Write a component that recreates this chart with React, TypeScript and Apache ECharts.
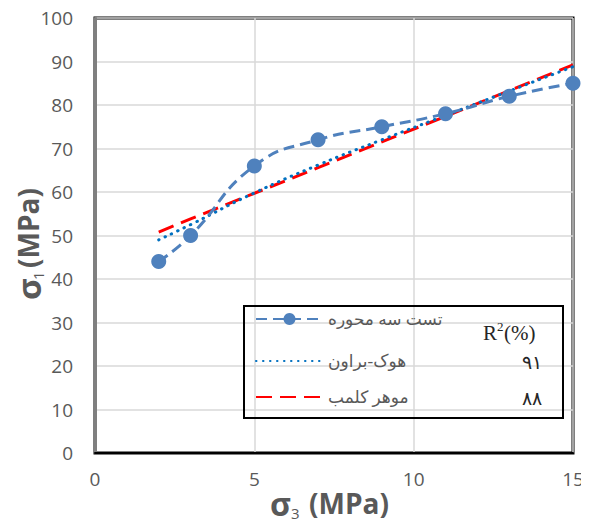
import React, { useEffect, useRef } from "react";
import * as echarts from "echarts";

const sigma3 = [2, 3, 5, 7, 9, 11, 13, 15];
const triaxialTest = [44, 50, 66, 72, 75, 78, 82, 85];
const hoekBrown = [49, 52.5, 59.8, 66.2, 72, 77.6, 83.2, 88.8];
const mohrCoulomb = [50.8, 53.8, 59.7, 65.6, 71.5, 77.4, 83.3, 89.2];
const seriesNames = ["تست سه محوره", "هوک-براون", "موهر کلمب"];
const r2Values = ["", "۹۱", "۸۸"];
const xTicks = { min: 0, max: 15, interval: 5 };
const yTicks = { min: 0, max: 100, interval: 10 };

const pairs = (ys: number[]) => sigma3.map((x, i) => [x, ys[i]]);

export default function App() {
  const ref = useRef<HTMLDivElement>(null);
  useEffect(() => {
    if (!ref.current) return;
    const chart = echarts.init(ref.current, null, { renderer: "svg" });
    const gray = "#595959";
    const tickFont = "'Open Sans', sans-serif";
    const serif = "'Liberation Serif', 'DejaVu Serif', serif";
    const persian = "'Liberation Serif', 'DejaVu Sans', sans-serif";
    const legendRows = [309, 351, 387];
    const legendItemStyles = [{ color: "#4F81BD", opacity: 1 }, { opacity: 0 }, { opacity: 0 }];
    chart.setOption({
      animation: false,
      backgroundColor: "#fff",
      grid: {
        left: 95,
        right: 16,
        top: 18,
        bottom: 70,
        show: true,
        borderColor: "#000",
        borderWidth: 3,
        containLabel: false,
      },
      xAxis: {
        type: "value",
        ...xTicks,
        axisLine: { show: true, lineStyle: { color: "#000", width: 2 } },
        axisTick: { show: false },
        axisLabel: { color: gray, fontSize: 19, fontFamily: tickFont, margin: 16 },
        splitLine: { show: true, lineStyle: { color: "#d9d9d9", width: 1.5 } },
      },
      yAxis: {
        type: "value",
        ...yTicks,
        axisLine: { show: true, lineStyle: { color: "#7f7f7f", width: 3 } },
        axisTick: { show: false },
        axisLabel: { color: gray, fontSize: 19, fontFamily: tickFont, margin: 22 },
        splitLine: { show: true, lineStyle: { color: "#d9d9d9", width: 1.5 } },
      },
      legend: seriesNames.map((name, i) => ({
        data: [name],
        left: 255,
        top: legendRows[i],
        padding: 0,
        itemWidth: 67,
        itemHeight: 15,
        selectedMode: false,
        itemStyle: legendItemStyles[i],
        textStyle: { color: gray, fontSize: 17, fontFamily: persian, lineHeight: 20 },
      })),
      series: [
        {
          name: seriesNames[2],
          type: "line",
          data: pairs(mohrCoulomb),
          symbol: "none",
          color: "#FF0000",
          lineStyle: { color: "#FF0000", width: 3, type: [16, 8] },
          z: 2,
        },
        {
          name: seriesNames[1],
          type: "line",
          data: pairs(hoekBrown),
          smooth: true,
          symbol: "none",
          color: "#0070C0",
          lineStyle: { color: "#0070C0", width: 3, type: [0.5, 6.5], cap: "round" },
          z: 3,
        },
        {
          name: seriesNames[0],
          type: "line",
          data: pairs(triaxialTest),
          smooth: true,
          symbol: "circle",
          symbolSize: 15,
          color: "#4F81BD",
          itemStyle: { color: "#4F81BD" },
          lineStyle: { color: "#4F81BD", width: 3, type: [11, 6] },
          z: 4,
        },
      ],
      graphic: [
        {
          type: "rect",
          shape: { x: 244, y: 306, width: 319, height: 112 },
          style: { fill: "none", stroke: "#000", lineWidth: 2 },
          z: 10,
        },
        {
          type: "text",
          x: 483,
          y: 333,
          style: { text: "R", font: `21px ${serif}`, fill: "#262626", textVerticalAlign: "middle" },
          z: 11,
        },
        {
          type: "text",
          x: 497,
          y: 326,
          style: { text: "2", font: `13px ${serif}`, fill: "#262626", textVerticalAlign: "middle" },
          z: 11,
        },
        {
          type: "text",
          x: 504,
          y: 333,
          style: { text: "(%)", font: `21px ${serif}`, fill: "#262626", textVerticalAlign: "middle" },
          z: 11,
        },
        ...r2Values.slice(1).map((v, i) => ({
          type: "text",
          x: 542,
          y: [362, 398][i],
          style: { text: v, font: `19px ${serif}`, fill: "#262626", textAlign: "right", textVerticalAlign: "middle" },
          z: 11,
        })),
        {
          type: "group",
          x: 28,
          y: 242,
          rotation: Math.PI / 2,
          children: [
            { type: "text", x: -58, y: 0, style: { text: "σ", font: `bold 33px ${tickFont}`, fill: gray, textVerticalAlign: "middle" } },
            { type: "text", x: -38, y: 10, style: { text: "1", font: `15px ${tickFont}`, fill: gray, textVerticalAlign: "middle" } },
            { type: "text", x: -26, y: 0, style: { text: "(MPa)", font: `bold 28px ${tickFont}`, fill: gray, textVerticalAlign: "middle" } },
          ],
        },
        {
          type: "group",
          x: 333,
          y: 503,
          children: [
            { type: "text", x: -63, y: 0, style: { text: "σ", font: `bold 32px ${tickFont}`, fill: gray, textVerticalAlign: "middle" } },
            { type: "text", x: -42, y: 10, style: { text: "3", font: `15px ${tickFont}`, fill: gray, textVerticalAlign: "middle" } },
            { type: "text", x: -24, y: 0, style: { text: "(MPa)", font: `bold 28px ${tickFont}`, fill: gray, textVerticalAlign: "middle" } },
          ],
        },
      ],
    });
    return () => chart.dispose();
  }, []);
  return <div ref={ref} style={{ width: 589, height: 523, marginLeft: -8, marginTop: -8 }} />;
}
